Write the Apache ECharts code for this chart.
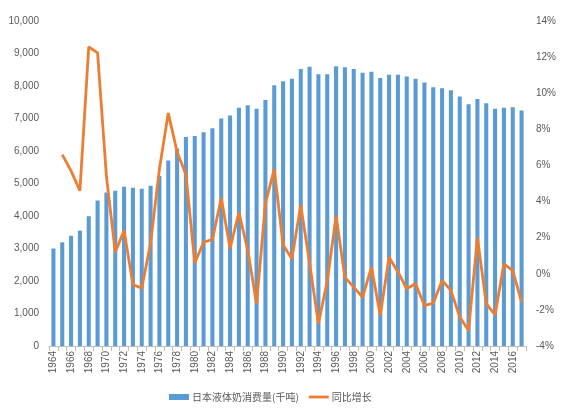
<!DOCTYPE html>
<html><head><meta charset="utf-8">
<script src="https://cdn.jsdelivr.net/npm/echarts@6/dist/echarts.min.js"></script>
<style>html,body{margin:0;padding:0;background:#fff}#c{width:567px;height:413px}</style>
</head><body><div id="c"></div>
<script>
const years = [];
for (let y = 1964; y <= 2017; y++) years.push(String(y));
const consumption = [3000,3190,3390,3550,3990,4480,4720,4780,4900,4870,4840,4930,5230,5710,6080,6430,6460,6580,6700,7000,7090,7330,7410,7300,7570,8020,8150,8220,8520,8590,8360,8360,8610,8580,8520,8410,8440,8250,8350,8350,8290,8220,8110,7960,7930,7870,7680,7440,7600,7470,7300,7330,7350,7250];
const growth = [null,6.6,5.7,4.6,12.57,12.23,5.4,1.2,2.4,-0.6,-0.8,1.7,5.8,8.9,6.75,5.5,0.6,1.75,1.9,4.2,1.4,3.4,1.3,-1.66,3.9,5.8,1.6,0.83,3.8,0.6,-2.77,-0.4,3.2,-0.2,-0.74,-1.3,0.37,-2.3,0.92,0.1,-0.83,-0.55,-1.76,-1.63,-0.37,-0.92,-2.4,-3.14,2.0,-1.66,-2.27,0.55,0.18,-1.57];
const seriesNames = ['日本液体奶消费量(千吨)', '同比增长'];
const txt = {color:'#595959', fontFamily:'"Liberation Sans","Noto Sans CJK SC",sans-serif', fontSize:10};
const chart = echarts.init(document.getElementById('c'));
chart.setOption({
  animation:false,
  grid:{left:49,right:41,top:21,bottom:67},
  legend:{bottom:6,left:164,itemWidth:20,itemHeight:6,itemGap:10,
    textStyle:{color:'#595959',fontFamily:'"Noto Sans CJK SC",sans-serif',fontSize:10,padding:[0,0,0,-2]},
    data:[{name:seriesNames[0],icon:'rect'},
          {name:seriesNames[1],icon:'path://M0,0M20,6M0,1.6L20,1.6L20,4.4L0,4.4Z'}]},
  xAxis:{type:'category',data:years,
    axisLine:{lineStyle:{color:'#BFBFBF'}},
    axisTick:{show:true,alignWithLabel:false,interval:0,lineStyle:{color:'#BFBFBF'}},
    axisLabel:Object.assign({rotate:90,interval:1,margin:5},txt)},
  yAxis:[
    {type:'value',min:0,max:10000,interval:1000,
     axisLine:{show:false},axisTick:{show:false},splitLine:{show:false},
     axisLabel:Object.assign({margin:10,formatter:v=>v.toLocaleString('en-US')},txt)},
    {type:'value',min:-4,max:14,interval:2,
     axisLine:{show:false},axisTick:{show:false},splitLine:{show:false},
     axisLabel:Object.assign({margin:10,formatter:'{value}%'},txt)}
  ],
  series:[
    {name:seriesNames[0],type:'bar',data:consumption,barWidth:'46%',itemStyle:{color:'#5B9BD5'}},
    {name:seriesNames[1],type:'line',yAxisIndex:1,data:growth,symbol:'none',
     lineStyle:{color:'#ED7D31',width:2.8},itemStyle:{color:'#ED7D31'}}
  ]
});
</script></body></html>
